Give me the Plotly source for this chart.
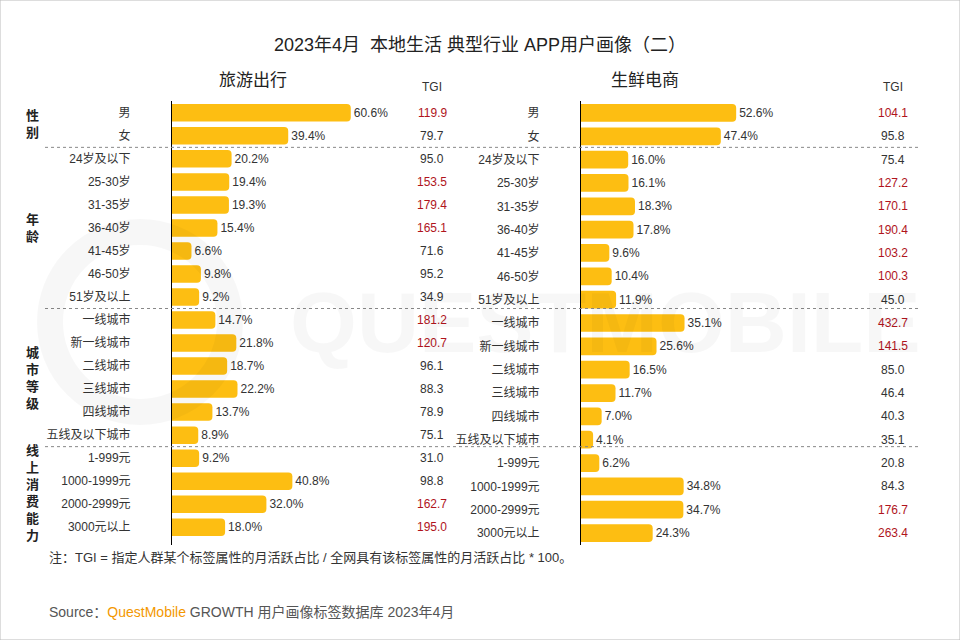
import plotly.graph_objects as go

# categories (top to bottom)
categories = ['男', '女',
              '24岁及以下', '25-30岁', '31-35岁', '36-40岁', '41-45岁', '46-50岁', '51岁及以上',
              '一线城市', '新一线城市', '二线城市', '三线城市', '四线城市', '五线及以下城市',
              '1-999元', '1000-1999元', '2000-2999元', '3000元以上']

groups = ['性别', '年龄', '城市等级', '线上消费能力']
group_sizes = [2, 7, 6, 4]

# 旅游出行
travel_pct = [60.6, 39.4,
              20.2, 19.4, 19.3, 15.4, 6.6, 9.8, 9.2,
              14.7, 21.8, 18.7, 22.2, 13.7, 8.9,
              9.2, 40.8, 32.0, 18.0]
travel_tgi = [119.9, 79.7,
              95.0, 153.5, 179.4, 165.1, 71.6, 95.2, 34.9,
              181.2, 120.7, 96.1, 88.3, 78.9, 75.1,
              31.0, 98.8, 162.7, 195.0]

# 生鲜电商
fresh_pct = [52.6, 47.4,
             16.0, 16.1, 18.3, 17.8, 9.6, 10.4, 11.9,
             35.1, 25.6, 16.5, 11.7, 7.0, 4.1,
             6.2, 34.8, 34.7, 24.3]
fresh_tgi = [104.1, 95.8,
             75.4, 127.2, 170.1, 190.4, 103.2, 100.3, 45.0,
             432.7, 141.5, 85.0, 46.4, 40.3, 35.1,
             20.8, 84.3, 176.7, 263.4]

W, H = 960, 640
FONT = 'Liberation Sans, Noto Sans CJK SC'
BAR = '#FDBE12'
RED = '#B0141C'
TXT = '#333333'


def px(x):
    return x / W


def py(y):
    return 1 - y / H


def label(x, y, text, size=12, color=TXT, xanchor='center', yref='paper'):
    return dict(x=x, xref='paper', y=y, yref=yref, text=text, showarrow=False,
                xanchor=xanchor, yanchor='middle',
                font=dict(size=size, color=color, family=FONT))


fig = go.Figure()

panels = [
    dict(pct=travel_pct, tgi=travel_tgi, xa='x', ya='y', tgi_x=432, title='旅游出行', title_x=253),
    dict(pct=fresh_pct, tgi=fresh_tgi, xa='x2', ya='y2', tgi_x=893, title='生鲜电商', title_x=645),
]

annotations = []
for p in panels:
    fig.add_trace(go.Bar(
        x=p['pct'], y=categories, orientation='h',
        xaxis=p['xa'], yaxis=p['ya'],
        marker=dict(color=BAR, line=dict(width=0), cornerradius=4),
        width=0.76,
        text=[f'{v:.1f}%' for v in p['pct']],
        textposition='outside', cliponaxis=False,
        textfont=dict(size=12, color=TXT, family=FONT),
        hoverinfo='skip', showlegend=False,
    ))
    for cat, t in zip(categories, p['tgi']):
        annotations.append(label(px(p['tgi_x']), cat, f'{t:.1f}',
                                 color=RED if t > 100 else TXT, yref=p['ya']))
    annotations.append(label(px(p['tgi_x']), py(87), 'TGI'))
    annotations.append(label(px(p['title_x']), py(80), p['title'], size=17, color='#222222'))

# group labels (vertical)
start = 0
for g, n in zip(groups, group_sizes):
    mid = start + (n - 1) / 2
    annotations.append(label(px(32), mid, '<b>' + '<br>'.join(g) + '</b>',
                             size=13, color='#222222', yref='y'))
    start += n

# title, note, source, watermark
annotations += [
    label(0.5, py(45), '2023年4月  本地生活 典型行业 APP用户画像（二）', size=18, color='#222222'),
    label(px(47), py(557), '注：TGI = 指定人群某个标签属性的月活跃占比 / 全网具有该标签属性的月活跃占比 * 100。',
          size=13, xanchor='left'),
    label(px(47), py(612),
          'Source：<span style="color:#F39800">QuestMobile</span> GROWTH 用户画像标签数据库 2023年4月',
          size=14, color='#555555', xanchor='left'),
    label(px(605), py(322), '<b>QUESTMOBILE</b>', size=86, color='rgba(0,0,0,0.03)'),
]

shapes = []
# dashed separators between groups
cum = 0
for n in group_sizes[:-1]:
    cum += n
    shapes.append(dict(type='line', xref='paper', yref='y',
                       x0=px(45), x1=px(918), y0=cum - 0.5, y1=cum - 0.5,
                       line=dict(color='#888888', width=1, dash='dot')))
# watermark ring
shapes.append(dict(type='circle', xref='paper', yref='paper',
                   x0=px(50), x1=px(230), y0=py(412), y1=py(232),
                   line=dict(color='rgba(0,0,0,0.03)', width=26)))
# border
shapes.append(dict(type='rect', xref='paper', yref='paper', x0=0, x1=1, y0=0, y1=1,
                   line=dict(color='#BBBBBB', width=1)))

y_top, y_bot = py(101.3), py(544.7)
yaxis_common = dict(type='category', categoryarray=categories, autorange='reversed',
                    domain=[y_bot, y_top], showgrid=False, zeroline=False,
                    showline=True, linecolor='#000000', linewidth=1,
                    ticks='', ticklabelstandoff=38,
                    tickfont=dict(size=12, color=TXT, family=FONT))
xaxis_common = dict(range=[0, 100], visible=False, fixedrange=True)

fig.update_layout(
    width=W, height=H,
    margin=dict(l=0, r=0, t=0, b=0),
    paper_bgcolor='white', plot_bgcolor='rgba(0,0,0,0)',
    font=dict(family=FONT, color=TXT),
    xaxis=dict(domain=[px(172), px(467)], anchor='y', **xaxis_common),
    xaxis2=dict(domain=[px(581), px(876)], anchor='y2', **xaxis_common),
    yaxis=dict(anchor='x', **yaxis_common),
    yaxis2=dict(anchor='x2', **yaxis_common),
    annotations=annotations,
    shapes=shapes,
)

fig.write_html('out.html', config={'displayModeBar': False},
               post_script="document.body.style.margin='0';")
